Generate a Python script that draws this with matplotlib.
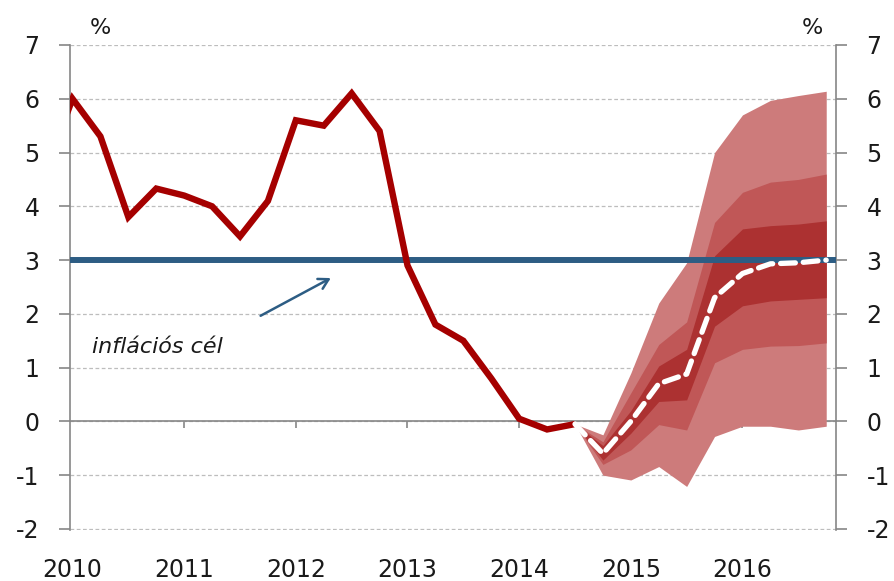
import matplotlib
matplotlib.use("Agg")
import matplotlib.pyplot as plt
import matplotlib.transforms as mtransforms

plt.rcParams['font.family'] = ['DejaVu Sans']
plt.rcParams['axes.unicode_minus'] = False

# quarterly CPI, index 0 = 2010 Q1 (index -1 = 2009 Q4, clipped by the axis)
hist_q = list(range(-1, 19))
hist_cpi = [4.6, 6.0, 5.3, 3.8, 4.33, 4.2, 4.0, 3.44, 4.1, 5.6, 5.5,
            6.1, 5.4, 2.9, 1.8, 1.5, 0.8, 0.05, -0.15, -0.05]

# forecast fan, 2014 Q3 .. 2016 Q4
fc_q = list(range(18, 28))
central = [-0.05, -0.6, 0.0, 0.7, 0.88, 2.3, 2.75, 2.93, 2.95, 3.0]
outer_hi = [-0.05, -0.25, 0.9, 2.2, 2.95, 5.0, 5.7, 5.97, 6.06, 6.14]
mid_hi = [-0.05, -0.38, 0.53, 1.43, 1.85, 3.7, 4.26, 4.45, 4.5, 4.6]
inner_hi = [-0.05, -0.45, 0.2, 1.03, 1.34, 3.08, 3.58, 3.64, 3.67, 3.73]
inner_lo = [-0.05, -0.72, -0.22, 0.37, 0.4, 1.77, 2.15, 2.24, 2.27, 2.3]
mid_lo = [-0.05, -0.8, -0.53, -0.06, -0.16, 1.09, 1.34, 1.4, 1.41, 1.46]
outer_lo = [-0.05, -1.0, -1.09, -0.84, -1.21, -0.28, -0.09, -0.09, -0.16, -0.09]

target = 3
year_pos = [0, 4, 8, 12, 16, 20, 24]
year_lab = ['2010', '2011', '2012', '2013', '2014', '2015', '2016']

fig = plt.figure(figsize=(8.95, 5.81), dpi=100)
ax = fig.add_axes([70 / 895, 1 - 530 / 581, (836 - 70) / 895, (530 - 45) / 581])

grey = '#868686'
ax.set_xlim(-0.09, 27.35)
ax.set_ylim(-2.02, 7)
ax.set_yticks(range(-2, 8))
ax.yaxis.grid(True, color='#bdbdbd', linestyle=(0, (3, 2)), linewidth=0.9)
ax.set_axisbelow(True)

ax.spines['top'].set_visible(False)
for s in ['left', 'right', 'bottom']:
    ax.spines[s].set_color(grey)
    ax.spines[s].set_linewidth(1.2)
ax.spines['bottom'].set_position(('data', 0))
ax.spines['bottom'].set_zorder(1.5)

ax.set_xticks(year_pos[1:])
ax.tick_params(axis='x', direction='out', length=5, color=grey, width=1.2,
               labelbottom=False)
ax.tick_params(axis='y', direction='out', length=8, color=grey, width=1.2,
               left=True, right=True, labelleft=True, labelright=True,
               labelsize=17, pad=14, labelcolor='#1a1a1a')
for t in ax.yaxis.get_major_ticks():
    t.label2.set_horizontalalignment('left')

trans = mtransforms.blended_transform_factory(ax.transData, ax.transAxes)
for p, lab in zip(year_pos, year_lab):
    ax.text(p, -0.083, lab, transform=trans, ha='center', va='center',
            fontsize=17, color='#1a1a1a')

# fan bands
ax.fill_between(fc_q, outer_lo, outer_hi, color='#cd7b7b', lw=0, zorder=2)
ax.fill_between(fc_q, mid_lo, mid_hi, color='#c05757', lw=0, zorder=2.1)
ax.fill_between(fc_q, inner_lo, inner_hi, color='#ac3131', lw=0, zorder=2.2)

ax.axhline(target, color='#2d5d84', lw=4.3, zorder=3)

ax.plot(hist_q, hist_cpi, color='#a50000', lw=4.6, solid_joinstyle='miter',
        solid_capstyle='butt', zorder=4)
ax.plot(fc_q, central, color='white', lw=3.8, linestyle=(0, (2.8, 1.5)),
        dash_capstyle='round', zorder=5)

ax.annotate('', xy=(9.34, 2.69), xytext=(6.65, 1.94),
            arrowprops=dict(arrowstyle='->,head_length=0.7,head_width=0.4',
                            color='#2d5d84', lw=1.8))
ax.text(0.7, 1.39, 'inflációs cél', fontsize=16, style='italic',
        ha='left', va='center', color='#1a1a1a')

fig.text(100 / 895, 1 - 28 / 581, '%', fontsize=16, ha='center', va='center',
         color='#1a1a1a')
fig.text(812 / 895, 1 - 28 / 581, '%', fontsize=16, ha='center', va='center',
         color='#1a1a1a')

fig.savefig('out.png', dpi=100)
